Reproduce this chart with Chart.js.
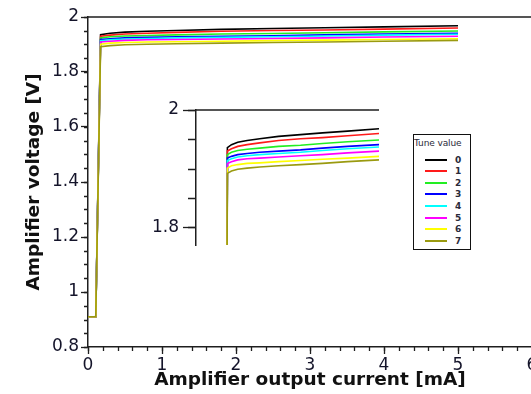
<!DOCTYPE html>
<html>
<head>
<meta charset="utf-8">
<script src="https://cdn.jsdelivr.net/npm/chart.js@4"></script>
<style>
  html, body { margin: 0; padding: 0; background: #fff; overflow: hidden; }
  #wrap { position: relative; width: 531px; height: 394px; overflow: hidden; }
  #main { position: absolute; left: 0; top: 0; }
  #inset { position: absolute; left: 140px; top: 95px; }
  #legend {
    position: absolute; left: 413px; top: 134px; width: 58px; height: 116px;
    border: 1px solid #111; box-sizing: border-box; overflow: hidden; background: #fff;
    font-family: "DejaVu Sans", sans-serif; color: #2a2a3a;
  }
  #legend .title { position: absolute; left: 0px; top: 3px; font-size: 9px; white-space: nowrap; letter-spacing: -0.1px; }
  #legend .row { position: absolute; left: 0; height: 12px; width: 58px; }
  #legend .swatch { position: absolute; left: 11px; top: 5px; width: 22px; height: 2px; }
  #legend .lbl { position: absolute; left: 41px; top: 0; font-size: 9px; font-weight: bold; line-height: 12px; }
</style>
</head>
<body>
<div id="wrap">
  <canvas id="main" width="545" height="394"></canvas>
  <canvas id="inset" width="250" height="165"></canvas>
  <div id="legend"></div>
</div>
<script>
// Output current sweep [mA]
const current = [0, 0.105, 0.17, 0.3, 0.5, 0.8, 1.2, 1.8, 2.5, 3.2, 4.0, 5.0];

// Measured amplifier voltage [V] for each tune value
const tune0 = [0.91, 0.91, 1.936, 1.941, 1.945, 1.948, 1.951, 1.955, 1.958, 1.961, 1.964, 1.968];
const tune1 = [0.91, 0.91, 1.930, 1.934, 1.938, 1.941, 1.944, 1.948, 1.951, 1.953, 1.956, 1.960];
const tune2 = [0.91, 0.91, 1.924, 1.928, 1.931, 1.933, 1.935, 1.938, 1.940, 1.943, 1.946, 1.949];
const tune3 = [0.91, 0.91, 1.918, 1.921, 1.924, 1.926, 1.928, 1.930, 1.932, 1.935, 1.938, 1.941];
const tune4 = [0.91, 0.91, 1.914, 1.917, 1.920, 1.922, 1.924, 1.926, 1.928, 1.931, 1.934, 1.937];
const tune5 = [0.91, 0.91, 1.909, 1.912, 1.915, 1.917, 1.918, 1.920, 1.922, 1.924, 1.927, 1.930];
const tune6 = [0.91, 0.91, 1.901, 1.905, 1.907, 1.909, 1.910, 1.912, 1.914, 1.916, 1.918, 1.921];
const tune7 = [0.91, 0.91, 1.892, 1.896, 1.899, 1.901, 1.903, 1.905, 1.907, 1.909, 1.912, 1.915];

const tuneLabels = ['0', '1', '2', '3', '4', '5', '6', '7'];
const tuneColors = ['#000000', '#ff1a1a', '#22ee22', '#0000ff', '#00ffff', '#ff00ff', '#ffff00', '#9a9a10'];
const tuneSeries = [tune0, tune1, tune2, tune3, tune4, tune5, tune6, tune7];

// Axis ticks
const xTicksMain = [0, 1, 2, 3, 4, 5, 6];
const yTicksMain = [0.8, 1, 1.2, 1.4, 1.6, 1.8, 2];
const yTicksInset = [1.8, 2];

const axisColor = '#1e1e1e';
const tickFont = { family: 'DejaVu Sans', size: 17 };
const tickColor = '#14142a';
const titleFont = { family: 'DejaVu Sans', size: 18.5, weight: 'bold' };
const plainNumber = v => String(+Number(v).toFixed(2));

function makeDatasets() {
  return tuneSeries.map((ys, i) => ({
    label: tuneLabels[i],
    data: current.map((x, j) => ({ x: x, y: ys[j] })),
    borderColor: tuneColors[i],
    borderWidth: 1.6,
    pointRadius: 0,
    tension: 0,
    fill: false,
    order: tuneSeries.length - 1 - i
  }));
}

// Top frame line plus short minor ticks along the axes
const frameTicks = {
  id: 'frameTicks',
  afterDraw(chart, args, o) {
    const { ctx, chartArea: a, scales } = chart;
    ctx.save();
    ctx.strokeStyle = axisColor;
    ctx.lineWidth = 1.3;
    ctx.beginPath();
    ctx.moveTo(a.left, a.top);
    ctx.lineTo(a.right, a.top);
    if (o.xMinor) {
      const s = scales.x;
      for (let v = s.min; v <= s.max + 1e-9; v += o.xMinor) {
        const px = Math.round(s.getPixelForValue(v)) + 0.5;
        ctx.moveTo(px, a.bottom);
        ctx.lineTo(px, a.bottom + o.minorLen);
      }
    }
    if (o.yMinor) {
      const s = scales.y;
      const start = Math.ceil(s.min / o.yMinor - 1e-9) * o.yMinor;
      for (let v = start; v <= s.max + 1e-9; v += o.yMinor) {
        const py = Math.round(s.getPixelForValue(v)) + 0.5;
        ctx.moveTo(a.left, py);
        ctx.lineTo(a.left - o.minorLen, py);
      }
    }
    ctx.stroke();
    ctx.restore();
  }
};

new Chart(document.getElementById('main'), {
  type: 'line',
  data: { datasets: makeDatasets() },
  plugins: [frameTicks],
  options: {
    responsive: false,
    animation: false,
    layout: { padding: { left: 0, top: 17, right: 13, bottom: 0 } },
    plugins: {
      legend: { display: false },
      tooltip: { enabled: false },
      frameTicks: { xMinor: 0.2, yMinor: 0.05, minorLen: 4 }
    },
    scales: {
      x: {
        type: 'linear', min: 0, max: 6,
        afterBuildTicks: s => { s.ticks = xTicksMain.map(v => ({ value: v })); },
        afterFit: s => { s.height = 47; },
        grid: { drawOnChartArea: false, drawTicks: true, tickLength: 7, color: axisColor, tickWidth: 1.3 },
        border: { display: true, color: axisColor, width: 1.5 },
        ticks: { font: tickFont, color: tickColor, padding: 1, maxRotation: 0, callback: plainNumber },
        title: { display: true, text: 'Amplifier output current [mA]', color: '#111',
                 font: titleFont, padding: { top: 0, bottom: 3 } }
      },
      y: {
        type: 'linear', min: 0.8, max: 2,
        afterBuildTicks: s => { s.ticks = yTicksMain.map(v => ({ value: v })); },
        afterFit: s => { s.width = 88; },
        grid: { drawOnChartArea: false, drawTicks: true, tickLength: 7, color: axisColor, tickWidth: 1.3 },
        border: { display: true, color: axisColor, width: 1.5 },
        ticks: { font: tickFont, color: tickColor, padding: 2, callback: plainNumber },
        title: { display: true, text: 'Amplifier voltage [V]', color: '#111',
                 font: titleFont, padding: { top: 23, bottom: 0 } }
      }
    }
  }
});

new Chart(document.getElementById('inset'), {
  type: 'line',
  data: { datasets: makeDatasets() },
  plugins: [frameTicks],
  options: {
    responsive: false,
    animation: false,
    layout: { padding: { left: 0, top: 15, right: 11, bottom: 15 } },
    plugins: {
      legend: { display: false },
      tooltip: { enabled: false },
      frameTicks: { yMinor: 0.05, minorLen: 8 }
    },
    scales: {
      x: { type: 'linear', min: -0.83, max: 5, display: false },
      y: {
        type: 'linear', min: 1.77, max: 2,
        afterBuildTicks: s => { s.ticks = yTicksInset.map(v => ({ value: v })); },
        afterFit: s => { s.width = 56; },
        grid: { drawOnChartArea: false, drawTicks: true, tickLength: 13, color: axisColor, tickWidth: 1.3 },
        border: { display: true, color: axisColor, width: 1.5 },
        ticks: { font: tickFont, color: tickColor, padding: 4, callback: plainNumber }
      }
    }
  }
});

// Legend box for the tune values
const legend = document.getElementById('legend');
const title = document.createElement('div');
title.className = 'title';
title.textContent = 'Tune value';
legend.appendChild(title);
tuneLabels.forEach((lab, i) => {
  const row = document.createElement('div');
  row.className = 'row';
  row.style.top = (18.5 + i * 11.6) + 'px';
  const sw = document.createElement('div');
  sw.className = 'swatch';
  sw.style.background = tuneColors[i];
  const t = document.createElement('div');
  t.className = 'lbl';
  t.textContent = lab;
  row.appendChild(sw);
  row.appendChild(t);
  legend.appendChild(row);
});
</script>
</body>
</html>
